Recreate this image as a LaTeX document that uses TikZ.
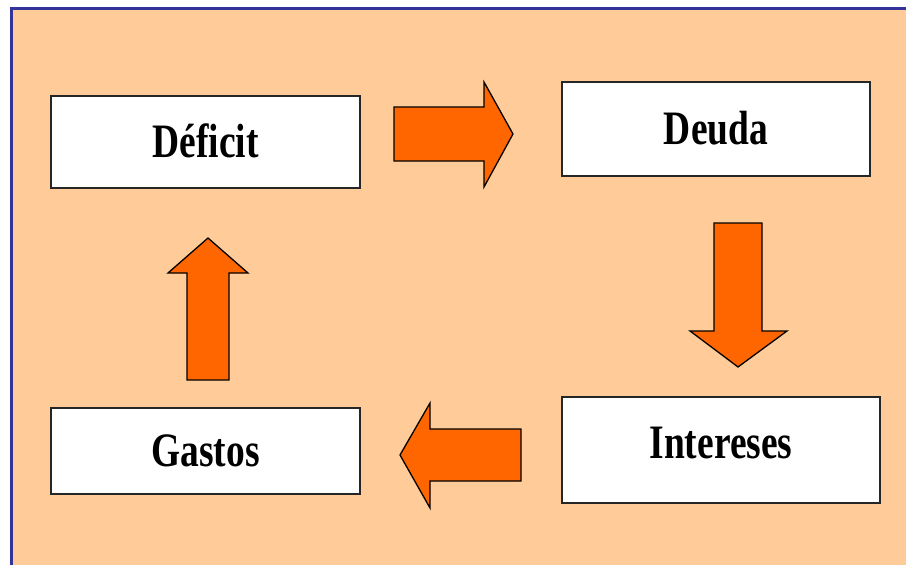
\documentclass[tikz,border=0pt]{standalone}
\usepackage{fontspec}
\newfontfamily\cajafont[FakeStretch=0.78]{Liberation Serif}
\definecolor{melocoton}{HTML}{FFCC99}
\definecolor{marcoazul}{HTML}{333399}
\definecolor{naranja}{HTML}{FF6600}
\tikzset{
  caja/.style={draw=black!85, line width=2pt, fill=white, inner sep=0pt,
    font=\cajafont\bfseries\fontsize{48}{48}\selectfont,
    text height=31pt, text depth=0pt},
  flecha/.style={draw=black, line width=1.3pt, fill=naranja, line join=miter}
}
\begin{document}
\begin{tikzpicture}[x=1pt,y=-1pt]
\useasboundingbox (0,0) rectangle (906,565);
\clip (0,0) rectangle (906,565);
% fondo y marco
\fill[melocoton] (11,8) rectangle (930,590);
\draw[marcoazul, line width=3pt] (11,590)--(11,8)--(930,8);
% cajas
\node[caja, minimum width=309pt, minimum height=92pt]  (deficit)   at (205.5,142) {Déficit};
\node[caja, minimum width=308pt, minimum height=94pt]  (deuda)     at (716,129)   {Deuda};
\node[caja, minimum width=318pt, minimum height=106pt, text depth=14pt] (intereses) at (721,450) {Intereses};
\node[caja, minimum width=309pt, minimum height=86pt]  (gastos)    at (205.5,451) {Gastos};
% flechas
\draw[flecha] (394,107)--(484,107)--(484,82)--(513,134)--(484,187)--(484,161)--(394,161)--cycle;
\draw[flecha] (714,223)--(762,223)--(762,331)--(787,331)--(738,367)--(690,331)--(714,331)--cycle;
\draw[flecha] (521,429)--(430,429)--(430,403)--(400,455)--(430,508)--(430,481)--(521,481)--cycle;
\draw[flecha] (187,380)--(187,273)--(168,273)--(208,238)--(248,273)--(229,273)--(229,380)--cycle;
\end{tikzpicture}
\end{document}
